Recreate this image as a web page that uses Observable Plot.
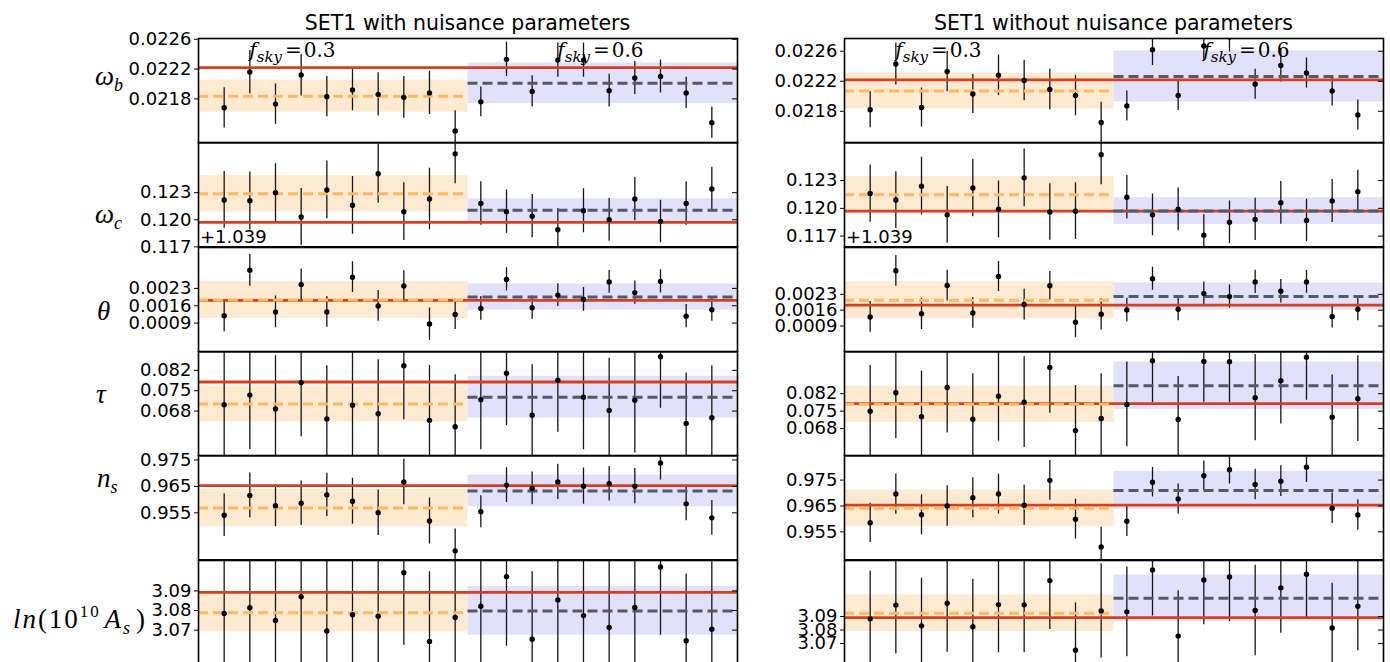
<!DOCTYPE html>
<html>
<head>
<meta charset="utf-8">
<script src="https://cdn.jsdelivr.net/npm/d3@7"></script>
<script src="https://cdn.jsdelivr.net/npm/@observablehq/plot@0.6"></script>
<style>
  html, body { margin: 0; padding: 0; background: #fff; overflow: hidden; }
  #chart { position: relative; width: 1390px; height: 662px; overflow: hidden; background: #fff; }
  #overlay { position: absolute; left: 0; top: 0; pointer-events: none; }
</style>
</head>
<body>
<div id="chart"></div>
<script>
// ---------------------------------------------------------------------------
// Data: 20 simulated runs (10 at f_sky = 0.3, 10 at f_sky = 0.6) for six
// cosmological parameters, fitted with and without nuisance parameters.
// Row order: omega_b, omega_c, theta (offset from 1.039), tau, n_s, ln(10^10 A_s)
// ---------------------------------------------------------------------------
const runs = [1, 2, 3, 4, 5, 6, 7, 8, 9, 10, 11, 12, 13, 14, 15, 16, 17, 18, 19, 20];
const runDomain = [0, 21];
const splitRun = 10.5;           // boundary between the two sky fractions
const fskyValues = ["0.3", "0.6"];
const fskyLabelRun = [2, 14];

const ticksByRow = [
  [0.0218, 0.0222, 0.0226],
  [0.117, 0.120, 0.123],
  [0.0009, 0.0016, 0.0023],
  [0.068, 0.075, 0.082],
  [0.955, 0.965, 0.975],
  [3.07, 3.08, 3.09]
];
const tickDigits = [4, 3, 4, 3, 3, 2];
const thetaOffsetLabel = "+1.039";

// fiducial (input) values
const truthByRow = [0.02222, 0.1197, 0.00182, 0.078, 0.9653, 3.0892];

// ---- SET1 with nuisance parameters ----
const withVals = [
  [0.02168, 0.02216, 0.02173, 0.02212, 0.02183, 0.02192, 0.02186, 0.02182, 0.02188, 0.02137,
   0.02176, 0.02233, 0.02190, 0.02232, 0.02232, 0.02191, 0.02208, 0.02210, 0.02188, 0.02148],
  [0.1222, 0.1221, 0.1230, 0.1203, 0.1233, 0.1216, 0.1251, 0.1209, 0.1223, 0.1273,
   0.1218, 0.1209, 0.1204, 0.1189, 0.1210, 0.1200, 0.1223, 0.1198, 0.1218, 0.1234],
  [0.00120, 0.00303, 0.00135, 0.00246, 0.00135, 0.00275, 0.00159, 0.00240, 0.00086, 0.00125,
   0.00149, 0.00266, 0.00152, 0.00203, 0.00186, 0.00256, 0.00213, 0.00258, 0.00118, 0.00144],
  [0.0702, 0.0735, 0.0687, 0.0778, 0.0653, 0.0700, 0.0671, 0.0836, 0.0648, 0.0626,
   0.0719, 0.0810, 0.0666, 0.0786, 0.0728, 0.0682, 0.0717, 0.0867, 0.0637, 0.0657],
  [0.9541, 0.9616, 0.9577, 0.9586, 0.9618, 0.9594, 0.9550, 0.9667, 0.9519, 0.9406,
   0.9554, 0.9655, 0.9643, 0.9667, 0.9651, 0.9660, 0.9651, 0.9739, 0.9584, 0.9531],
  [3.0785, 3.0814, 3.0749, 3.0870, 3.0696, 3.0779, 3.0771, 3.0993, 3.0642, 3.0764,
   3.0822, 3.0973, 3.0654, 3.0854, 3.0774, 3.0713, 3.0815, 3.1022, 3.0646, 3.0705]
];
const withErrs = [
  [0.00027, 0.00029, 0.00027, 0.00028, 0.00027, 0.00028, 0.00029, 0.00028, 0.00029, 0.00027,
   0.00020, 0.00023, 0.00021, 0.00023, 0.00023, 0.00022, 0.00022, 0.00022, 0.00021, 0.00021],
  [0.00315, 0.0032, 0.0032, 0.00315, 0.0032, 0.0032, 0.00328, 0.0032, 0.0034, 0.0033,
   0.00242, 0.00239, 0.00239, 0.00235, 0.00244, 0.00237, 0.00242, 0.00236, 0.00241, 0.00241],
  [0.00065, 0.00064, 0.00064, 0.00062, 0.00062, 0.00062, 0.00062, 0.00061, 0.00065, 0.00061,
   0.00048, 0.00047, 0.00047, 0.00046, 0.00048, 0.00046, 0.00047, 0.00047, 0.00047, 0.00047],
  [0.0186, 0.0187, 0.0183, 0.0186, 0.0183, 0.0185, 0.0186, 0.0186, 0.0189, 0.0179,
   0.0172, 0.0180, 0.0173, 0.0179, 0.0181, 0.0180, 0.0181, 0.0177, 0.0174, 0.0179],
  [0.0081, 0.0085, 0.0080, 0.0084, 0.0082, 0.0087, 0.0086, 0.0086, 0.0087, 0.0083,
   0.0061, 0.0066, 0.0062, 0.0067, 0.0069, 0.0065, 0.0067, 0.0065, 0.0064, 0.0066],
  [0.0358, 0.0362, 0.0356, 0.0365, 0.0354, 0.0358, 0.0357, 0.0370, 0.0355, 0.0356,
   0.0345, 0.0355, 0.0343, 0.0346, 0.0345, 0.0344, 0.0347, 0.0348, 0.0340, 0.0344]
];
const withMean03 = [0.021836, 0.12289, 0.00183, 0.07041, 0.9568, 3.0788];
const withSd03   = [0.000215, 0.0020, 0.00074, 0.0062, 0.0070, 0.0097];
const withMean06 = [0.02201, 0.12104, 0.00195, 0.07279, 0.9633, 3.0798];
const withSd06   = [0.000271, 0.00128, 0.00053, 0.00717, 0.0060, 0.0124];
const withDomains = [
  [0.02121, 0.02261], [0.117, 0.12856], [-0.00026, 0.00395],
  [0.0526, 0.0885], [0.9372, 0.9767], [3.0523, 3.1055]
];

// ---- SET1 without nuisance parameters ----
const withoutVals = [
  [0.02182, 0.02243, 0.02185, 0.02233, 0.02203, 0.02228, 0.02221, 0.02209, 0.02201, 0.02165,
   0.02187, 0.02262, 0.02201, 0.02267, 0.02279, 0.02216, 0.02241, 0.02231, 0.02207, 0.02175],
  [0.1216, 0.1209, 0.1224, 0.1193, 0.1222, 0.1199, 0.1233, 0.1196, 0.1197, 0.1258,
   0.1212, 0.1193, 0.1199, 0.1171, 0.1185, 0.1188, 0.1206, 0.1187, 0.1208, 0.1218],
  [0.00130, 0.00334, 0.00144, 0.00269, 0.00148, 0.00309, 0.00185, 0.00268, 0.00107, 0.00142,
   0.00161, 0.00299, 0.00164, 0.00234, 0.00220, 0.00285, 0.00244, 0.00285, 0.00132, 0.00164],
  [0.0750, 0.0824, 0.0728, 0.0845, 0.0718, 0.0810, 0.0786, 0.0925, 0.0672, 0.0721,
   0.0777, 0.0952, 0.0717, 0.0949, 0.0948, 0.0804, 0.0872, 0.0966, 0.0726, 0.0800],
  [0.9585, 0.9696, 0.9616, 0.9650, 0.9682, 0.9696, 0.9653, 0.9749, 0.9599, 0.9492,
   0.9591, 0.9742, 0.9677, 0.9767, 0.9790, 0.9733, 0.9746, 0.9800, 0.9641, 0.9615],
  [3.0883, 3.0985, 3.0831, 3.0999, 3.0824, 3.0989, 3.0987, 3.1167, 3.0651, 3.0942,
   3.0935, 3.1246, 3.0755, 3.1172, 3.1194, 3.0945, 3.1113, 3.1214, 3.0816, 3.0977]
];
const withoutErrs = [
  [0.00024, 0.00028, 0.00026, 0.00027, 0.00026, 0.00027, 0.00027, 0.00027, 0.00027, 0.00027,
   0.00020, 0.00021, 0.00020, 0.00020, 0.00020, 0.00020, 0.00022, 0.00020, 0.00020, 0.00020],
  [0.0031, 0.00307, 0.00313, 0.00306, 0.0031, 0.00307, 0.00313, 0.00306, 0.00307, 0.00325,
   0.00235, 0.00226, 0.00231, 0.0022, 0.0023, 0.00228, 0.00231, 0.00228, 0.00233, 0.00233],
  [0.00068, 0.00068, 0.00069, 0.00068, 0.00068, 0.00066, 0.00068, 0.00063, 0.00069, 0.00069,
   0.00052, 0.00051, 0.00051, 0.00051, 0.00051, 0.00051, 0.00052, 0.00050, 0.00051, 0.00051],
  [0.0183, 0.0184, 0.0182, 0.0183, 0.0182, 0.0181, 0.0182, 0.0183, 0.0181, 0.0179,
   0.0170, 0.0168, 0.0172, 0.0163, 0.0164, 0.0173, 0.0173, 0.0172, 0.0169, 0.0172],
  [0.0076, 0.0078, 0.0077, 0.0078, 0.0077, 0.0077, 0.0077, 0.0077, 0.0077, 0.0076,
   0.0059, 0.0057, 0.0058, 0.0057, 0.0055, 0.0059, 0.0059, 0.0059, 0.0059, 0.0059],
  [0.0356, 0.0363, 0.0353, 0.0363, 0.0353, 0.0358, 0.0356, 0.0363, 0.0350, 0.0350,
   0.0333, 0.0341, 0.0336, 0.0333, 0.0333, 0.0336, 0.0336, 0.0333, 0.0331, 0.0331]
];
const withoutMean03 = [0.02207, 0.12148, 0.00204, 0.07772, 0.96417, 3.0925];
const withoutSd03   = [0.000237, 0.00195, 0.00081, 0.00726, 0.00697, 0.0136];
const withoutMean06 = [0.022264, 0.11971, 0.00220, 0.0852, 0.97102, 3.1036];
const withoutSd06   = [0.00034, 0.00145, 0.0006, 0.0095, 0.00728, 0.0173];
const withoutDomains = [
  [0.02138, 0.02277], [0.11584, 0.12712], [-0.00024, 0.00437],
  [0.0571, 0.0989], [0.9442, 0.9845], [3.0542, 3.1316]
];

const panelTitles = ["SET1 with nuisance parameters", "SET1 without nuisance parameters"];

// ---------------------------------------------------------------------------
// Layout and style
// ---------------------------------------------------------------------------
const FRAME_W = 539;
const ROW_TOP0 = 38;
const ROW_H = 104.33;
const M_LEFT = 80, M_RIGHT = 10;
const RED = "#d6401f";
const ORANGE = "#fdb863";
const LAVENDER = "#e1e1fb";
const SLATE = "#545867";

const panels = [
  {title: panelTitles[0], frameLeft: 198, vals: withVals, errs: withErrs,
   m03: withMean03, sd03: withSd03, m06: withMean06, sd06: withSd06, domains: withDomains},
  {title: panelTitles[1], frameLeft: 844, vals: withoutVals, errs: withoutErrs,
   m03: withoutMean03, sd03: withoutSd03, m06: withoutMean06, sd06: withoutSd06, domains: withoutDomains}
];

function buildRow(panel, r) {
  const pts = runs.map((run, i) => ({run, v: panel.vals[r][i], e: panel.errs[r][i]}));
  const lowBand = [{x1: runDomain[0], x2: splitRun,
    lo: panel.m03[r] - panel.sd03[r], hi: panel.m03[r] + panel.sd03[r]}];
  const highBand = [{x1: splitRun, x2: runDomain[1],
    lo: panel.m06[r] - panel.sd06[r], hi: panel.m06[r] + panel.sd06[r]}];
  return Plot.plot({
    width: FRAME_W + M_LEFT + M_RIGHT,
    height: ROW_H,
    marginLeft: M_LEFT, marginRight: M_RIGHT, marginTop: 0, marginBottom: 0,
    style: {fontFamily: "DejaVu Sans", fontSize: "18px", color: "#000",
            background: "none", overflow: "visible"},
    x: {domain: runDomain, axis: null},
    y: {domain: panel.domains[r]},
    marks: [
      Plot.rect(lowBand, {x1: "x1", x2: "x2", y1: "lo", y2: "hi", fill: ORANGE, fillOpacity: 0.3, clip: true}),
      Plot.rect(highBand, {x1: "x1", x2: "x2", y1: "lo", y2: "hi", fill: LAVENDER, clip: true}),
      Plot.ruleX(pts, {x: "run", y1: d => d.v - d.e, y2: d => d.v + d.e,
                       stroke: "#151515", strokeWidth: 1.3, clip: true}),
      Plot.ruleY([truthByRow[r]], {stroke: RED, strokeWidth: 2.8, clip: true}),
      Plot.ruleY([panel.m03[r]], {x1: runDomain[0], x2: splitRun, stroke: ORANGE,
                                  strokeWidth: 3, strokeDasharray: "10,5"}),
      Plot.ruleY([panel.m06[r]], {x1: splitRun, x2: runDomain[1], stroke: SLATE,
                                  strokeWidth: 3, strokeDasharray: "10,5"}),
      Plot.dot(pts, {x: "run", y: "v", r: 2.7, fill: "#000", clip: true}),
      Plot.axisY(ticksByRow[r], {anchor: "left", tickSize: 4, tickPadding: 3,
                                 tickFormat: d3.format(`.${tickDigits[r]}f`), label: null}),
      Plot.axisY(ticksByRow[r], {anchor: "right", tickSize: 6, dx: -6,
                                 tickFormat: () => "", label: null}),
      Plot.frame({stroke: "#000", strokeWidth: 1.6})
    ]
  });
}

const chart = document.getElementById("chart");
const firstRowPlots = [];
panels.forEach((panel, p) => {
  ticksByRow.forEach((_, r) => {
    const el = buildRow(panel, r);
    el.style.position = "absolute";
    el.style.left = (panel.frameLeft - M_LEFT) + "px";
    el.style.top = (ROW_TOP0 + r * ROW_H) + "px";
    chart.appendChild(el);
    if (r === 0) firstRowPlots[p] = el;
  });
});

// ---------------------------------------------------------------------------
// Text layer: titles, row labels, f_sky annotations, theta offset
// ---------------------------------------------------------------------------
const overlay = d3.select(chart).append("svg")
  .attr("id", "overlay").attr("width", 1390).attr("height", 662);

panels.forEach((panel) => {
  overlay.append("text")
    .attr("x", panel.frameLeft + FRAME_W / 2).attr("y", 30)
    .attr("text-anchor", "middle")
    .attr("font-family", "DejaVu Sans").attr("font-size", 20.5)
    .text(panel.title);

  overlay.append("text")
    .attr("x", panel.frameLeft + 2).attr("y", ROW_TOP0 + 2 * ROW_H - 4)
    .attr("font-family", "DejaVu Sans").attr("font-size", 18)
    .text(thetaOffsetLabel);
});

// f_sky labels placed through each panel's x scale
panels.forEach((panel, p) => {
  const xs = firstRowPlots[p].scale("x");
  fskyValues.forEach((val, k) => {
    const t = overlay.append("text")
      .attr("x", panel.frameLeft - M_LEFT + xs.apply(fskyLabelRun[k]))
      .attr("y", ROW_TOP0 + 19)
      .attr("font-family", "DejaVu Serif").attr("font-size", 20);
    t.append("tspan").attr("font-style", "italic").text("f");
    t.append("tspan").attr("font-style", "italic").attr("font-size", 15).attr("dy", 5).text("sky");
    t.append("tspan").attr("dy", -5).attr("dx", 3).text("=");
    t.append("tspan").attr("dx", 2).text(val);
  });
});

// Row labels (left panel only)
const rowLabelParts = [
  [["ω", "i"], ["b", "sub"]],
  [["ω", "i"], ["c", "sub"]],
  [["θ", "i"]],
  [["τ", "i"]],
  [["n", "i"], ["s", "sub"]],
  [["ln", "i"], ["(10", "r"], ["10", "sup"], ["A", "i2"], ["s", "sub"], [")", "r2"]]
];
const rowLabelX = [95, 95, 97, 96, 97, 13];
const rowLabelBaseline = [85, 223, 320, 403, 487, 628];

rowLabelParts.forEach((parts, r) => {
  const t = overlay.append("text")
    .attr("x", rowLabelX[r]).attr("y", rowLabelBaseline[r])
    .attr("font-family", "Liberation Serif").attr("font-size", 27);
  let shift = 0;
  parts.forEach(([str, kind]) => {
    const s = t.append("tspan").text(str);
    let target = 0;
    if (kind === "i" || kind === "i2") s.attr("font-style", "italic");
    if (kind === "sub") { s.attr("font-style", "italic").attr("font-size", 18); target = 6; }
    if (kind === "sup") { s.attr("font-size", 17); target = -11; }
    if (kind === "i2" || kind === "r2") s.attr("dx", 4);
    s.attr("dy", target - shift);
    shift = target;
  });
  if (r === 5) t.attr("textLength", 132).attr("lengthAdjust", "spacing");
});
</script>
</body>
</html>
